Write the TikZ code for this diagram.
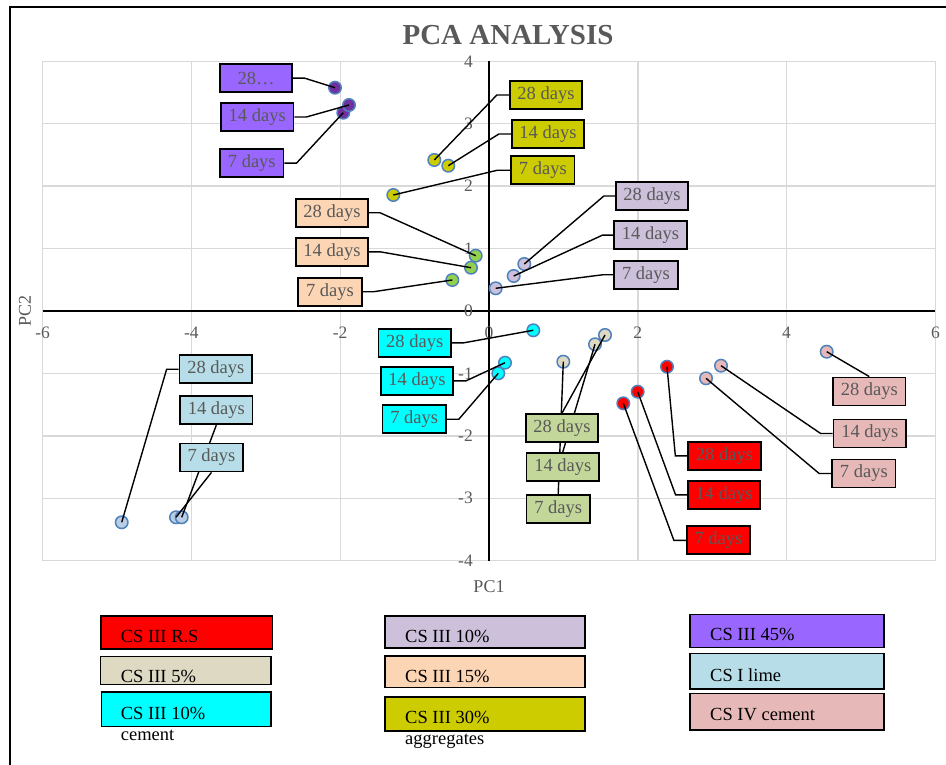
\documentclass[tikz,border=0pt]{standalone}
\usepackage{fontspec}
\setmainfont{Liberation Serif}
\definecolor{tgray}{HTML}{595959}
\definecolor{gridgray}{HTML}{D9D9D9}
\definecolor{mkedge}{HTML}{4F81BD}
\definecolor{purpP}{HTML}{7030A0}
\definecolor{purpL}{HTML}{9966FF}
\definecolor{olive}{HTML}{CCCC00}
\definecolor{greenP}{HTML}{92D050}
\definecolor{peach}{HTML}{FCD5B5}
\definecolor{lav}{HTML}{CCC0DA}
\definecolor{cyanC}{HTML}{00FFFF}
\definecolor{lbL}{HTML}{B7DEE8}
\definecolor{lbP}{HTML}{B9CDE5}
\definecolor{beige}{HTML}{DDD9C3}
\definecolor{greenL}{HTML}{C4D79B}
\definecolor{redC}{HTML}{FF0000}
\definecolor{pink}{HTML}{E6B9B8}
\pgfdeclarelayer{back}
\pgfdeclarelayer{mid}
\pgfsetlayers{back,mid,main}
\begin{document}
\begin{tikzpicture}[x=1pt,y=-1pt,
  mk/.style={circle, minimum size=12.5pt, inner sep=0pt, draw=mkedge, line width=1.5pt, fill=#1},
  lb/.style={draw=black, line width=1.8pt, fill=#1, text=tgray, font=\fontsize{18.5}{18.5}\selectfont, inner sep=0pt, minimum height=28pt},
  wide/.style={minimum width=72.5pt},
  narrow/.style={minimum width=63.5pt},
  con/.style={draw=black, line width=1.4pt},
  gridline/.style={draw=gridgray, line width=1.4pt},
  axisline/.style={draw=black, line width=1.8pt},
  tick/.style={text=tgray, font=\fontsize{17.5}{17.5}\selectfont, inner sep=0pt},
  leg/.style={draw=black, line width=1.6pt, fill=#1, inner sep=0pt},
  legtxt/.style={font=\fontsize{18.5}{18.5}\selectfont, inner sep=0pt, anchor=base west}]
\useasboundingbox (0,0) rectangle (946,765);
\begin{pgfonlayer}{back}
% frame
\draw[line width=2pt] (10,765) -- (10,7.3) -- (946,7.3);
% title
\node[font=\bfseries\fontsize{29}{29}\selectfont, text=tgray, inner sep=0pt, anchor=base] (title) at (508,45) {PCA ANALYSIS};
% grid
\foreach \gx in {42.6,191.4,340.2,637.8,786.6,935.4} \draw[gridline] (\gx,61.4) -- (\gx,560.6);
\foreach \gy in {61.4,123.8,186.2,248.6,373.4,435.8,498.2,560.6} \draw[gridline] (42.6,\gy) -- (935.4,\gy);
% axes
\draw[axisline] (489,61.4) -- (489,560.6);
\draw[axisline] (42.6,311) -- (935.4,311);
% tick labels
\foreach \v/\gy in {4/61.4,3/123.8,2/186.2,1/248.6,0/311,-1/373.4,-2/435.8,-3/498.2,-4/560.6}
  \node[tick, anchor=east] at (473,\gy) {\v};
\foreach \v/\gx in {-6/42.6,-4/191.4,-2/340.2,0/489,2/637.8,4/786.6,6/935.4}
  \node[tick] at (\gx,333) {\v};
\node[tick, font=\fontsize{18}{18}\selectfont] (pc1) at (489,587) {PC1};
\node[tick, font=\fontsize{18}{18}\selectfont, rotate=90] (pc2) at (25,311) {PC2};
% markers
\node[mk=purpP] (P28) at (335,87.7) {};
\node[mk=purpP] (P7) at (343.3,112.7) {};
\node[mk=purpP] (P14) at (349,105) {};
\node[mk=olive] (O28) at (434.3,160) {};
\node[mk=olive] (O14) at (448.3,165.7) {};
\node[mk=olive] (O7) at (393.3,195) {};
\node[mk=greenP] (F28) at (475.7,255.7) {};
\node[mk=greenP] (F14) at (471,267.7) {};
\node[mk=greenP] (F7) at (452.3,280) {};
\node[mk=lav] (L28) at (524.3,264) {};
\node[mk=lav] (L14) at (513.7,276) {};
\node[mk=lav] (L7) at (495.7,288.3) {};
\node[mk=cyanC] (C28) at (533.3,330.3) {};
\node[mk=cyanC] (C7) at (498.3,373.3) {};
\node[mk=cyanC] (C14) at (505,362.7) {};
\node[mk=lbP] (B28) at (121.7,522.3) {};
\node[mk=lbP] (B7) at (176,517.3) {};
\node[mk=lbP] (B14) at (181.7,517.3) {};
\node[mk=beige] (G7) at (563.3,361.7) {};
\node[mk=beige] (G14) at (595,344.3) {};
\node[mk=beige] (G28) at (605,335) {};
\node[mk=redC] (R28) at (667,366.7) {};
\node[mk=redC] (R14) at (637.7,391.7) {};
\node[mk=redC] (R7) at (623.3,403.3) {};
\node[mk=pink] (K28) at (826.7,351.7) {};
\node[mk=pink] (K14) at (721,365.7) {};
\node[mk=pink] (K7) at (706,378.3) {};
\end{pgfonlayer}
% data label boxes
\node[lb=purpL, wide] (p28) at (256,78.2) {28…};
\node[lb=purpL, wide] (p14) at (257.2,117) {14 days};
\node[lb=purpL, narrow] (p7) at (251.8,163.2) {7 days};
\node[lb=olive, wide] (o28) at (546,95) {28 days};
\node[lb=olive, wide] (o14) at (548,134) {14 days};
\node[lb=olive, narrow] (o7) at (542.8,170.3) {7 days};
\node[lb=peach, wide] (f28) at (332,212.8) {28 days};
\node[lb=peach, wide] (f14) at (332,251.8) {14 days};
\node[lb=peach, narrow] (f7) at (330,291.7) {7 days};
\node[lb=lav, wide] (l28) at (652,196) {28 days};
\node[lb=lav, wide] (l14) at (650.5,235.2) {14 days};
\node[lb=lav, narrow] (l7) at (646,274.7) {7 days};
\node[lb=cyanC, wide] (c28) at (414.7,342.8) {28 days};
\node[lb=cyanC, wide] (c14) at (417,380.8) {14 days};
\node[lb=cyanC, narrow] (c7) at (414.2,419.2) {7 days};
\node[lb=lbL, wide] (b28) at (215.8,369.2) {28 days};
\node[lb=lbL, wide] (b14) at (216.3,410.3) {14 days};
\node[lb=lbL, narrow] (b7) at (211.5,457.5) {7 days};
\node[lb=greenL, wide] (g28) at (562,428) {28 days};
\node[lb=greenL, wide] (g14) at (562.8,466.8) {14 days};
\node[lb=greenL, narrow] (g7) at (558.2,509) {7 days};
\node[lb=redC, wide] (r28) at (724.5,455.8) {28 days};
\node[lb=redC, wide] (r14) at (724,494.8) {14 days};
\node[lb=redC, narrow] (r7) at (718.5,540.3) {7 days};
\node[lb=pink, wide] (k28) at (869.3,391.5) {28 days};
\node[lb=pink, wide] (k14) at (869.8,433.5) {14 days};
\node[lb=pink, narrow] (k7) at (863.8,473.5) {7 days};
% connectors (layer between markers and boxes)
\begin{pgfonlayer}{mid}
\draw[con] (p28.east) -- ++(11.6,0) -- (P28.center);
\draw[con] (p14.east) -- ++(12,0) -- (P14.center);
\draw[con] (p7.east) -- ++(12,0) -- (P7.center);
\draw[con] (o28.west) -- ++(-12,0) -- (O28.center);
\draw[con] (o14.west) -- ++(-12,0) -- (O14.center);
\draw[con] (o7.west) -- ++(-13,0) -- (O7.center);
\draw[con] (f28.east) -- ++(11,0) -- (F28.center);
\draw[con] (f14.east) -- ++(11,0) -- (F14.center);
\draw[con] (f7.east) -- ++(11,0) -- (F7.center);
\draw[con] (l28.west) -- ++(-11,0) -- (L28.center);
\draw[con] (l14.west) -- ++(-11,0) -- (L14.center);
\draw[con] (l7.west) -- ++(-10,0) -- (L7.center);
\draw[con] (c28.east) -- ++(12,0) -- (C28.center);
\draw[con] (c14.east) -- ++(12,0) -- (C14.center);
\draw[con] (c7.east) -- ++(12,0) -- (C7.center);
\draw[con] (b28.west) -- ++(-12,0) -- (B28.center);
\draw[con] (b14.south) -- (B14.center);
\draw[con] (b7.south) -- (B7.center);
\draw[con] (g28.north) -- (G28.center);
\draw[con] (g14.north) -- (G14.center);
\draw[con] (g7.north) -- (G7.center);
\draw[con] (r28.west) -- ++(-12,0) -- (R28.center);
\draw[con] (r14.west) -- ++(-11.3,0) -- (R14.center);
\draw[con] (r7.west) -- ++(-12,0) -- (R7.center);
\draw[con] (k28.north) -- (K28.center);
\draw[con] (k14.west) -- ++(-12,0) -- (K14.center);
\draw[con] (k7.west) -- ++(-12,0) -- (K7.center);
\end{pgfonlayer}
% legend
\node[leg=redC, minimum width=171.6pt, minimum height=33pt] (e1) at (186.5,632.5) {};
\node[leg=beige, minimum width=170.4pt, minimum height=28pt] (e2) at (185.5,670.3) {};
\node[leg=cyanC, minimum width=169.4pt, minimum height=34.6pt] (e3) at (186,709) {};
\node[legtxt] (t1) at (120.7,642.7) {CS III R.S};
\node[legtxt] (t2) at (120.7,682.7) {CS III 5\%};
\node[legtxt] (t3) at (120.7,719) {CS III 10\%};
\node[legtxt] (t3b) at (120.7,740) {cement};
\node[leg=lav, minimum width=200pt, minimum height=32pt] (e4) at (485,631.7) {};
\node[leg=peach, minimum width=200pt, minimum height=31.6pt] (e5) at (485,671.5) {};
\node[leg=olive, minimum width=200pt, minimum height=34pt] (e6) at (485,713.7) {};
\node[legtxt] (t4) at (405,642.3) {CS III 10\%};
\node[legtxt] (t5) at (405,682.7) {CS III 15\%};
\node[legtxt] (t6) at (405,723.3) {CS III 30\%};
\node[legtxt] (t6b) at (405,744) {aggregates};
\node[leg=purpL, minimum width=194pt, minimum height=33pt] (e7) at (787,630.8) {};
\node[leg=lbL, minimum width=194pt, minimum height=35.4pt] (e8) at (787,671) {};
\node[leg=pink, minimum width=194pt, minimum height=36.4pt] (e9) at (787,711.5) {};
\node[legtxt] (t7) at (710,640.7) {CS III 45\%};
\node[legtxt] (t8) at (710,681) {CS I lime};
\node[legtxt] (t9) at (710,720.7) {CS IV cement};
\end{tikzpicture}
\end{document}
